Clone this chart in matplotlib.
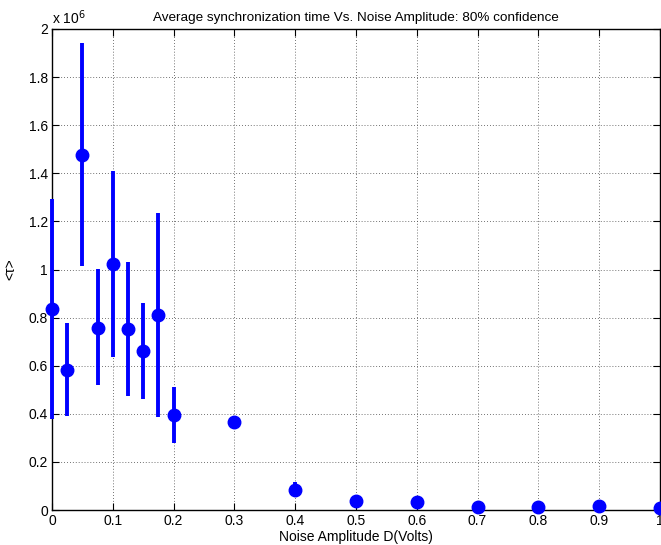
import matplotlib
matplotlib.use("Agg")
import matplotlib.pyplot as plt
import numpy as np

plt.rcParams['font.family'] = ['Liberation Sans', 'DejaVu Sans']

# noise amplitude (V) and mean sync time (x 1e6) with 80% confidence bounds
noise = [0, 0.025, 0.05, 0.075, 0.1, 0.125, 0.15, 0.175, 0.2, 0.3, 0.4, 0.5, 0.6, 0.7, 0.8, 0.9, 1.0]
tau_mean = [0.837, 0.584, 1.475, 0.758, 1.023, 0.754, 0.661, 0.812, 0.395, 0.367, 0.083, 0.036, 0.035, 0.011, 0.011, 0.018, 0.010]
tau_low = [0.38, 0.39, 1.015, 0.518, 0.636, 0.473, 0.462, 0.387, 0.28, 0.36, 0.055, 0.033, 0.032, 0.009, 0.009, 0.015, 0.008]
tau_high = [1.295, 0.779, 1.94, 1.004, 1.41, 1.033, 0.862, 1.237, 0.51, 0.374, 0.115, 0.039, 0.038, 0.013, 0.013, 0.021, 0.012]

scale = 1e6
y = np.array(tau_mean) * scale
err = [y - np.array(tau_low) * scale, np.array(tau_high) * scale - y]

fig = plt.figure(figsize=(6.61, 5.45), dpi=100)
ax = fig.add_axes([0.0787, 0.0642, 0.9198, 0.8826])

ax.errorbar(noise, y, yerr=err, fmt='o', color='#0000ff', ecolor='#0000ff',
            elinewidth=2.8, capsize=0, markersize=9, clip_on=False, zorder=3)

ax.set_xlim(0, 1)
ax.set_ylim(0, 2e6)
ax.set_xticks(np.arange(0, 1.01, 0.1))
ax.set_xticklabels(['0', '0.1', '0.2', '0.3', '0.4', '0.5', '0.6', '0.7', '0.8', '0.9', '1'])
yt = np.arange(0, 2.01, 0.2)
ax.set_yticks(yt * scale)
ax.set_yticklabels(['0', '0.2', '0.4', '0.6', '0.8', '1', '1.2', '1.4', '1.6', '1.8', '2'])

ax.grid(True, linestyle=(0, (1, 2.5)), color='#444444', linewidth=0.6)
ax.tick_params(direction='in', top=True, right=True, length=5, labelsize=10, pad=3)
for s in ax.spines.values():
    s.set_linewidth(1.0)

ax.text(0.0, 1.005, r'x 10$^6$', transform=ax.transAxes, fontsize=10, ha='left', va='bottom')
ax.set_title('Average synchronization time Vs. Noise Amplitude: 80% confidence', fontsize=9.7, pad=6)
ax.set_xlabel('Noise Amplitude D(Volts)', fontsize=10, labelpad=1)
ax.set_ylabel('<\u03c4>', fontsize=10, labelpad=8)

fig.savefig('out.png', dpi=100)
